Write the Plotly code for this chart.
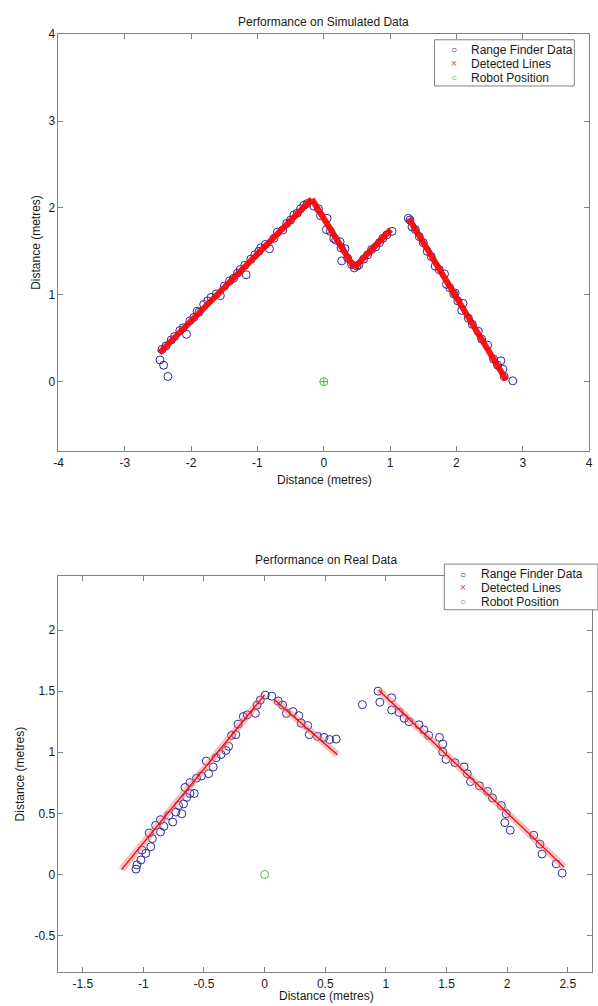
import plotly.graph_objects as go

W, H = 598, 1006

# ---------------- Simulated data (top chart) ----------------
sim_scan_x = [-2.47, -2.415, -2.35, -2.44, -2.38, -2.30, -2.25, -2.17, -2.12, -2.07, -2.02, -1.96, -1.91,
              -1.88, -1.81, -1.75, -1.70, -1.62, -1.56, -1.50, -1.42, -1.36, -1.30, -1.26, -1.19, -1.17,
              -1.10, -1.04, -0.98, -0.95, -0.88, -0.82, -0.75, -0.70, -0.62, -0.56, -0.50, -0.45, -0.40,
              -0.35, -0.30, -0.25,
              -0.15, -0.08, -0.05, 0.05, 0.04, 0.10, 0.15, 0.18, 0.245, 0.26, 0.32, 0.36, 0.27, 0.42, 0.46,
              0.50, 0.53, 0.60, 0.66, 0.72, 0.78, 0.84, 0.89, 0.95, 1.03,
              1.275, 1.30, 1.33, 1.38, 1.44, 1.50, 1.56, 1.62, 1.68, 1.74, 1.82, 1.85, 1.90, 1.96, 1.98,
              2.02, 2.08, 2.10, 2.18, 2.24, 2.33, 2.38, 2.47, 2.56, 2.62, 2.67, 2.70, 2.72, 2.85]
sim_scan_y = [0.25, 0.19, 0.06, 0.37, 0.41, 0.48, 0.52, 0.59, 0.62, 0.545, 0.70, 0.74, 0.81,
              0.80, 0.89, 0.93, 0.97, 1.01, 0.99, 1.10, 1.16, 1.19, 1.25, 1.29, 1.34, 1.23,
              1.41, 1.46, 1.50, 1.54, 1.58, 1.53, 1.65, 1.72, 1.745, 1.82, 1.86, 1.92, 1.94,
              1.99, 2.03, 2.05,
              2.02, 1.99, 1.91, 1.88, 1.75, 1.73, 1.65, 1.63, 1.61, 1.54, 1.53, 1.42, 1.39, 1.35, 1.31,
              1.33, 1.345, 1.41, 1.46, 1.52, 1.55, 1.60, 1.65, 1.69, 1.73,
              1.88, 1.86, 1.78, 1.75, 1.67, 1.60, 1.50, 1.44, 1.33, 1.29, 1.24, 1.12, 1.08, 1.01, 1.02,
              0.93, 0.82, 0.90, 0.73, 0.66, 0.58, 0.49, 0.42, 0.26, 0.19, 0.24, 0.145, 0.06, 0.01]
sim_lines_x = [-2.48, -0.18, None, -0.18, 0.46, None, 0.46, 1.01, None, 1.28, 2.75]
sim_lines_y = [0.33, 2.10, None, 2.10, 1.31, None, 1.31, 1.75, None, 1.88, 0.02]

# ---------------- Real data (bottom chart) ----------------
real_scan_x = [-1.061, -1.053, -1.02, -0.98, -1.012, -0.939, -0.926, -0.952, -0.899, -0.859, -0.831,
               -0.859, -0.758, -0.791, -0.732, -0.683, -0.71, -0.669, -0.643, -0.616, -0.58, -0.656,
               -0.616, -0.562, -0.521, -0.462, -0.481, -0.424, -0.40, -0.359, -0.319, -0.297, -0.273,
               -0.238, -0.219, -0.176, -0.143, -0.076, -0.062, -0.036, 0.005, 0.059,
               0.112, 0.148, 0.18, 0.234, 0.282, 0.302, 0.355, 0.369, 0.436, 0.49, 0.536, 0.59,
               0.806, 0.935, 0.95, 1.048, 1.048, 1.11, 1.151, 1.19, 1.273, 1.313, 1.353, 1.442, 1.469,
               1.469, 1.496, 1.569, 1.645, 1.671, 1.698, 1.771, 1.839, 1.879, 1.952, 1.992, 1.981,
               2.025, 2.219, 2.27, 2.288, 2.405, 2.454]
real_scan_y = [0.044, 0.078, 0.119, 0.173, 0.20, 0.227, 0.294, 0.34, 0.402, 0.348, 0.394,
               0.448, 0.429, 0.483, 0.51, 0.497, 0.564, 0.578, 0.631, 0.663, 0.663, 0.712,
               0.752, 0.788, 0.807, 0.825, 0.928, 0.879, 0.955, 0.982, 1.015, 1.049, 1.138,
               1.144, 1.23, 1.292, 1.306, 1.319, 1.387, 1.427, 1.468, 1.459,
               1.419, 1.387, 1.319, 1.333, 1.30, 1.238, 1.219, 1.144, 1.13, 1.122, 1.104, 1.108,
               1.39, 1.50, 1.41, 1.446, 1.346, 1.327, 1.278, 1.25, 1.225, 1.184, 1.138, 1.122, 1.068,
               1.003, 0.942, 0.915, 0.88, 0.825, 0.76, 0.726, 0.68, 0.626, 0.564, 0.497, 0.424,
               0.362, 0.321, 0.248, 0.167, 0.087, 0.011]
real_lines_x = [-1.18, 0.0, None, 0.08, 0.60, None, 0.94, 2.47]
real_lines_y = [0.04, 1.47, None, 1.43, 0.98, None, 1.51, 0.06]

robot_x = [0.0]
robot_y = [0.0]

# tick values / labels
top_xticks = [-4, -3, -2, -1, 0, 1, 2, 3, 4]
top_yticks = [0, 1, 2, 3, 4]
bot_xticks = [-1.5, -1, -0.5, 0, 0.5, 1, 1.5, 2, 2.5]
bot_yticks = [-0.5, 0, 0.5, 1, 1.5, 2]


def lab(v):
    return '%g' % v


FONT = 'Liberation Sans, Arial, Helvetica, sans-serif'
TXT = '#1a1a1a'
AX = '#808080'
BLUE = '#2a2a9c'
RED = '#ff0000'
GREEN = '#3cc43c'


def px(x):
    return x / W


def py(y):
    return 1 - y / H


fig = go.Figure()

# top chart (MATLAB order: data, lines, robot)
fig.add_trace(go.Scatter(x=sim_scan_x, y=sim_scan_y, mode='markers',
                         marker=dict(symbol='circle-open', size=8, color=BLUE, line=dict(width=1)),
                         xaxis='x', yaxis='y', showlegend=False, name='Range Finder Data'))
fig.add_trace(go.Scatter(x=sim_lines_x, y=sim_lines_y, mode='lines', line=dict(color=RED, width=6),
                         opacity=0.92, xaxis='x', yaxis='y', showlegend=False, name='Detected Lines'))
fig.add_trace(go.Scatter(x=robot_x, y=robot_y, mode='markers',
                         marker=dict(symbol='circle-cross-open', size=8, color=GREEN, line=dict(width=1)),
                         xaxis='x', yaxis='y', showlegend=False, name='Robot Position'))

# bottom chart
fig.add_trace(go.Scatter(x=real_scan_x, y=real_scan_y, mode='markers',
                         marker=dict(symbol='circle-open', size=8, color=BLUE, line=dict(width=1)),
                         xaxis='x2', yaxis='y2', showlegend=False, name='Range Finder Data'))
fig.add_trace(go.Scatter(x=real_lines_x, y=real_lines_y, mode='lines',
                         line=dict(color='rgba(235,120,120,0.45)', width=7),
                         xaxis='x2', yaxis='y2', showlegend=False, hoverinfo='skip'))
fig.add_trace(go.Scatter(x=real_lines_x, y=real_lines_y, mode='lines', line=dict(color=RED, width=1.3),
                         xaxis='x2', yaxis='y2', showlegend=False, name='Detected Lines'))
fig.add_trace(go.Scatter(x=robot_x, y=robot_y, mode='markers',
                         marker=dict(symbol='circle-open', size=8, color=GREEN, line=dict(width=1)),
                         xaxis='x2', yaxis='y2', showlegend=False, name='Robot Position'))

axcommon = dict(showline=True, linecolor=AX, linewidth=1, mirror='ticks', ticks='inside', ticklen=5,
                tickcolor=AX, showgrid=False, zeroline=False, tickfont=dict(family=FONT, size=12, color=TXT),
                fixedrange=True)

fig.update_layout(
    width=W, height=H, margin=dict(l=0, r=0, t=0, b=0),
    paper_bgcolor='white', plot_bgcolor='white', showlegend=False,
    font=dict(family=FONT, size=12, color=TXT),
    xaxis=dict(domain=[px(54.3), px(593)], range=[-4, 4], anchor='y',
               tickvals=top_xticks, ticktext=[lab(v) for v in top_xticks], **axcommon),
    yaxis=dict(domain=[py(447.3), py(27.3)], range=[-0.8, 4], anchor='x',
               tickvals=top_yticks, ticktext=[lab(v) for v in top_yticks], **axcommon),
    xaxis2=dict(domain=[px(54.3), px(596)], range=[-1.7, 2.7], anchor='y2',
                tickvals=bot_xticks, ticktext=[lab(v) for v in bot_xticks], **axcommon),
    yaxis2=dict(domain=[py(972), py(573.3)], range=[-0.8, 2.44], anchor='x2',
                tickvals=bot_yticks, ticktext=[lab(v) for v in bot_yticks], **axcommon),
)

ann = []


def text(x, y, s, angle=0, xanchor='center', color=TXT, size=12):
    ann.append(dict(x=px(x), y=py(y), xref='paper', yref='paper', text=s, showarrow=False,
                    textangle=angle, xanchor=xanchor, yanchor='middle',
                    font=dict(family=FONT, size=size, color=color)))


# titles
text(323.5, 15, 'Performance on Simulated Data')
text(324, 476, 'Distance (metres)')
text(32, 237, 'Distance (metres)', angle=-90)
text(326, 557, 'Performance on Real Data')
text(326, 996, 'Distance (metres)')
text(15, 772, 'Distance (metres)', angle=-90)

shapes = []


def legend(x0, y0, x1, y1, symx, textx, rows):
    shapes.append(dict(type='rect', xref='paper', yref='paper', x0=px(x0), x1=px(x1), y0=py(y1), y1=py(y0),
                       line=dict(color=AX, width=1), fillcolor='white', layer='above'))
    syms = [('○', BLUE), ('×', '#e04040'), ('○', GREEN)]
    labels = ['Range Finder Data', 'Detected Lines', 'Robot Position']
    for (s, c), l, ry in zip(syms, labels, rows):
        text(symx, ry, s, color=c, size=10)
        text(textx, ry, l, xanchor='left')


legend(436, 33, 578, 79.5, 456, 471, [43, 57.3, 71])
legend(446, 561, 602, 607, 465, 481, [571, 585, 599])

fig.update_layout(annotations=ann, shapes=shapes)

fig.write_html('out.html')
